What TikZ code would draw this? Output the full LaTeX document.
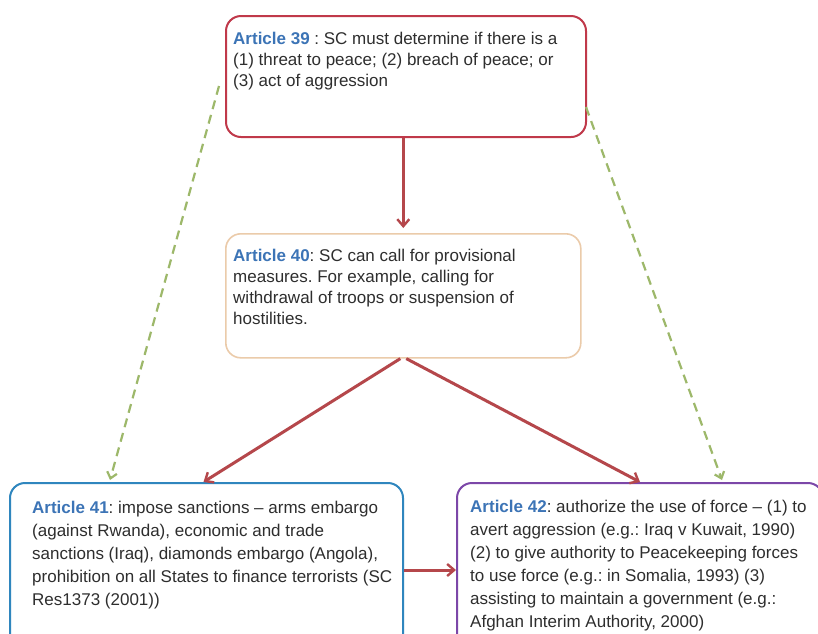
\documentclass[tikz,border=0pt]{standalone}
\usepackage{fontspec}
\setmainfont{Liberation Sans}
\usetikzlibrary{arrows.meta,calc}
\definecolor{redbox}{HTML}{C0394A}
\definecolor{tanbox}{HTML}{EBCBAA}
\definecolor{bluebox}{HTML}{2F86BE}
\definecolor{purplebox}{HTML}{7C47A8}
\definecolor{arrred}{HTML}{B5474B}
\definecolor{dashgreen}{HTML}{9DB86A}
\definecolor{artblue}{HTML}{3C74B6}
\definecolor{bodytext}{HTML}{2E2E2E}
\newcommand{\art}[1]{\textcolor{artblue}{\textbf{#1}}}
\frenchspacing
\tikzset{
  boxshape/.style={draw, rounded corners=15pt, line width=2pt, minimum width=#1, anchor=north west, inner sep=0pt},
  txt/.style={anchor=north west, inner sep=0pt, align=left, text=bodytext},
  redarr/.style={draw=arrred, line width=3pt, -{Straight Barb[length=7pt,width=12pt,line width=2.4pt]}},
  greenarr/.style={draw=dashgreen, line width=2.2pt, dash pattern=on 9pt off 6pt, -{Straight Barb[length=6pt,width=10pt,line width=2.2pt]}}
}
\begin{document}
\begin{tikzpicture}[x=1pt,y=-1pt]
\path[use as bounding box, clip] (0,0) rectangle (818,633);
\fill[white] (0,0) rectangle (818,633);
% boxes
\node[boxshape=360pt, draw=redbox, minimum height=121pt] (b39) at (225,15) {};
\node[boxshape=355pt, draw=tanbox, line width=1.6pt, minimum height=124pt] (b40) at (225,233) {};
\node[boxshape=393pt, draw=bluebox, minimum height=170pt] (b41) at (9,482) {};
\node[boxshape=366pt, draw=purplebox, minimum height=170pt] (b42) at (456,482) {};
% texts
\node[txt, font=\frenchspacing\fontsize{17}{21}\selectfont] (t39) at (233,32) {\art{Article 39} : SC must determine if there is a\\(1) threat to peace; (2) breach of peace; or\\(3) act of aggression};
\node[txt, font=\frenchspacing\fontsize{17}{21}\selectfont] (t40) at (233,249) {\art{Article 40}: SC can call for provisional\\measures. For example, calling for\\withdrawal of troops or suspension of\\hostilities.};
\node[txt, font=\frenchspacing\fontsize{17}{23}\selectfont] (t41) at (32,501) {\art{Article 41}: impose sanctions -- arms embargo\\(against Rwanda), economic and trade\\sanctions (Iraq), diamonds embargo (Angola),\\prohibition on all States to finance terrorists (SC\\Res1373 (2001))};
\node[txt, font=\frenchspacing\fontsize{17}{23}\selectfont] (t42) at (470,500) {\art{Article 42}: authorize the use of force -- (1) to\\avert aggression (e.g.: Iraq v Kuwait, 1990)\\(2) to give authority to Peacekeeping forces\\to use force (e.g.: in Somalia, 1993) (3)\\assisting to maintain a government (e.g.:\\Afghan Interim Authority, 2000)};
% helper coordinates
\coordinate (g1) at (219,86);
\coordinate (g2) at (586,107);
\coordinate (y570) at (0,570);
\coordinate (gl) at (110,480);
\coordinate (gr) at (722,480);
% connectors
\draw[redarr] (b39.south -| b40.north) -- ($(b40.north)+(0,-5)$);
\draw[redarr] ($(b40.south)+(-3,0)$) -- ($(b41.north)+(-3,0)$);
\draw[redarr] ($(b40.south)+(3,0)$) -- (b42.north);
\draw[redarr] (b41.east |- y570) -- (b42.west |- y570);
\draw[greenarr] (g1) -- (gl);
\draw[greenarr] (g2) -- (gr);
\end{tikzpicture}
\end{document}
